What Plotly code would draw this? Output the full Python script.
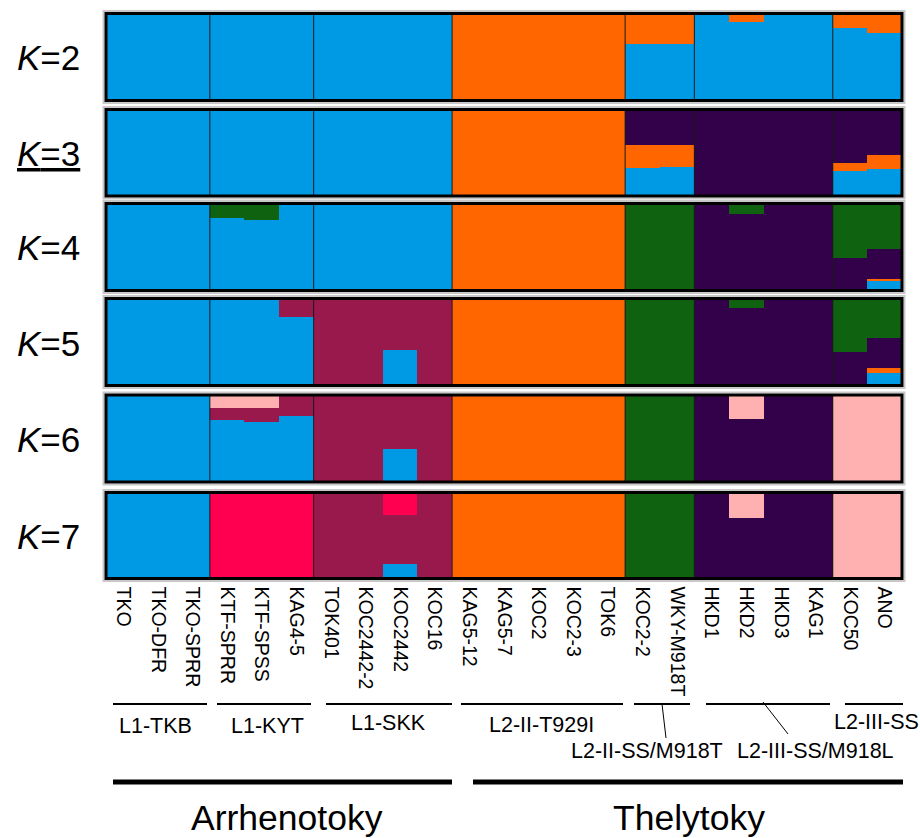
import plotly.graph_objects as go

W, H = 920, 838

# ---------------- data ----------------
populations = ["TKO", "TKO-DFR", "TKO-SPRR", "KTF-SPRR", "KTF-SPSS", "KAG4-5",
               "TOK401", "KOC2442-2", "KOC2442", "KOC16",
               "KAG5-12", "KAG5-7", "KOC2", "KOC2-3", "TOK6",
               "KOC2-2", "WKY-M918T",
               "HKD1", "HKD2", "HKD3", "KAG1",
               "KOC50", "ANO"]

group_names = ["L1-TKB", "L1-KYT", "L1-SKK", "L2-II-T929I", "L2-II-SS/M918T",
               "L2-III-SS/M918L", "L2-III-SS"]
group_sizes = [3, 3, 4, 5, 2, 4, 2]
mode_names = ["Arrhenotoky", "Thelytoky"]

k_labels = ["<i>K</i>=2", "<u><i>K</i>=3</u>", "<i>K</i>=4", "<i>K</i>=5", "<i>K</i>=6", "<i>K</i>=7"]

# K = 2
K2_blue   = [1, 1, 1, 1, 1, 1, 1, 1, 1, 1, 0, 0, 0, 0, 0, 0.655, 0.66, 1, 0.91, 1, 1, 0.84, 0.785]
K2_orange = [0, 0, 0, 0, 0, 0, 0, 0, 0, 0, 1, 1, 1, 1, 1, 0.345, 0.34, 0, 0.09, 0, 0, 0.16, 0.215]

# K = 3
K3_blue   = [1, 1, 1, 1, 1, 1, 1, 1, 1, 1, 0, 0, 0, 0, 0, 0.325, 0.337, 0, 0, 0, 0, 0.29, 0.32]
K3_orange = [0, 0, 0, 0, 0, 0, 0, 0, 0, 0, 1, 1, 1, 1, 1, 0.265, 0.253, 0, 0, 0, 0, 0.10, 0.16]
K3_purple = [0, 0, 0, 0, 0, 0, 0, 0, 0, 0, 0, 0, 0, 0, 0, 0.41, 0.41, 1, 1, 1, 1, 0.61, 0.52]

# K = 4
K4_blue   = [1, 1, 1, 0.836, 0.82, 1, 1, 1, 1, 1, 0, 0, 0, 0, 0, 0, 0, 0, 0, 0, 0, 0, 0.11]
K4_orange = [0, 0, 0, 0, 0, 0, 0, 0, 0, 0, 1, 1, 1, 1, 1, 0, 0, 0, 0, 0, 0, 0, 0.03]
K4_purple = [0, 0, 0, 0, 0, 0, 0, 0, 0, 0, 0, 0, 0, 0, 0, 0, 0, 1, 0.885, 1, 1, 0.38, 0.34]
K4_green  = [0, 0, 0, 0.164, 0.18, 0, 0, 0, 0, 0, 0, 0, 0, 0, 0, 1, 1, 0, 0.115, 0, 0, 0.62, 0.52]

# K = 5
K5_blue   = [1, 1, 1, 1, 1, 0.79, 0, 0, 0.41, 0, 0, 0, 0, 0, 0, 0, 0, 0, 0, 0, 0, 0, 0.155]
K5_orange = [0, 0, 0, 0, 0, 0, 0, 0, 0, 0, 1, 1, 1, 1, 1, 0, 0, 0, 0, 0, 0, 0, 0.055]
K5_purple = [0, 0, 0, 0, 0, 0, 0, 0, 0, 0, 0, 0, 0, 0, 0, 0, 0, 1, 0.90, 1, 1, 0.39, 0.34]
K5_green  = [0, 0, 0, 0, 0, 0, 0, 0, 0, 0, 0, 0, 0, 0, 0, 1, 1, 0, 0.10, 0, 0, 0.61, 0.45]
K5_maroon = [0, 0, 0, 0, 0, 0.21, 1, 1, 0.59, 1, 0, 0, 0, 0, 0, 0, 0, 0, 0, 0, 0, 0, 0]

# K = 6
K6_blue   = [1, 1, 1, 0.71, 0.695, 0.755, 0, 0, 0.38, 0, 0, 0, 0, 0, 0, 0, 0, 0, 0, 0, 0, 0, 0]
K6_orange = [0, 0, 0, 0, 0, 0, 0, 0, 0, 0, 1, 1, 1, 1, 1, 0, 0, 0, 0, 0, 0, 0, 0]
K6_purple = [0, 0, 0, 0, 0, 0, 0, 0, 0, 0, 0, 0, 0, 0, 0, 0, 0, 1, 0.72, 1, 1, 0, 0]
K6_green  = [0, 0, 0, 0, 0, 0, 0, 0, 0, 0, 0, 0, 0, 0, 0, 1, 1, 0, 0, 0, 0, 0, 0]
K6_maroon = [0, 0, 0, 0.135, 0.15, 0.245, 1, 1, 0.62, 1, 0, 0, 0, 0, 0, 0, 0, 0, 0, 0, 0, 0, 0]
K6_pink   = [0, 0, 0, 0.155, 0.155, 0, 0, 0, 0, 0, 0, 0, 0, 0, 0, 0, 0, 0, 0.28, 0, 0, 1, 1]

# K = 7
K7_blue   = [1, 1, 1, 0, 0, 0, 0, 0, 0.175, 0, 0, 0, 0, 0, 0, 0, 0, 0, 0, 0, 0, 0, 0]
K7_orange = [0, 0, 0, 0, 0, 0, 0, 0, 0, 0, 1, 1, 1, 1, 1, 0, 0, 0, 0, 0, 0, 0, 0]
K7_purple = [0, 0, 0, 0, 0, 0, 0, 0, 0, 0, 0, 0, 0, 0, 0, 0, 0, 1, 0.71, 1, 1, 0, 0]
K7_green  = [0, 0, 0, 0, 0, 0, 0, 0, 0, 0, 0, 0, 0, 0, 0, 1, 1, 0, 0, 0, 0, 0, 0]
K7_maroon = [0, 0, 0, 0, 0, 0, 1, 1, 0.57, 1, 0, 0, 0, 0, 0, 0, 0, 0, 0, 0, 0, 0, 0]
K7_pink   = [0, 0, 0, 0, 0, 0, 0, 0, 0, 0, 0, 0, 0, 0, 0, 0, 0, 0, 0.29, 0, 0, 1, 1]
K7_red    = [0, 0, 0, 1, 1, 1, 0, 0, 0.255, 0, 0, 0, 0, 0, 0, 0, 0, 0, 0, 0, 0, 0, 0]

panels = [
    [("blue", K2_blue), ("orange", K2_orange)],
    [("blue", K3_blue), ("orange", K3_orange), ("purple", K3_purple)],
    [("blue", K4_blue), ("orange", K4_orange), ("purple", K4_purple), ("green", K4_green)],
    [("blue", K5_blue), ("orange", K5_orange), ("purple", K5_purple), ("green", K5_green),
     ("maroon", K5_maroon)],
    [("blue", K6_blue), ("orange", K6_orange), ("purple", K6_purple), ("green", K6_green),
     ("maroon", K6_maroon), ("pink", K6_pink)],
    [("blue", K7_blue), ("orange", K7_orange), ("purple", K7_purple), ("green", K7_green),
     ("maroon", K7_maroon), ("pink", K7_pink), ("red", K7_red)],
]

# ---------------- style ----------------
COLORS = {
    "blue": "#0099E3", "orange": "#FF6600", "purple": "#33004A", "green": "#0E6210",
    "maroon": "#99194C", "pink": "#FFB0B0", "red": "#FF0050",
}
FONT = "Liberation Sans, Arial, sans-serif"

# panel vertical extents in window pixels (top, bottom)
panel_px = [(13.5, 100.5), (109.5, 196), (203.5, 290.5), (298.5, 385.5), (395, 482), (492.5, 578.5)]
X_LEFT, X_RIGHT = 106, 902


def px_x(p):
    return p / W


def px_y(p):
    return 1 - p / H


fig = go.Figure()
idx = list(range(len(populations)))
layout = {}
shapes = []
annotations = []

# boundaries between groups (in data units)
bounds = []
acc = 0
for s in group_sizes[:-1]:
    acc += s
    bounds.append(acc - 0.5)

for i, comps in enumerate(panels):
    n = i + 1
    xname = "x" if n == 1 else f"x{n}"
    yname = "y" if n == 1 else f"y{n}"
    for cname, vals in comps:
        fig.add_trace(go.Bar(
            x=idx, y=vals, width=1, marker=dict(color=COLORS[cname], line=dict(width=0)),
            xaxis=xname, yaxis=yname, hoverinfo="skip", showlegend=False,
        ))
    top, bot = panel_px[i]
    xkey = "xaxis" if n == 1 else f"xaxis{n}"
    ykey = "yaxis" if n == 1 else f"yaxis{n}"
    layout[xkey] = dict(
        domain=[px_x(X_LEFT), px_x(X_RIGHT)], range=[-0.5, len(populations) - 0.5],
        anchor=yname, showgrid=False, zeroline=False, showline=False, fixedrange=True,
        showticklabels=(n == len(panels)),
        tickmode="array", tickvals=idx, ticktext=populations, tickangle=90,
        ticks="", ticklabelstandoff=7,
        tickfont=dict(family=FONT, size=19.5, color="black"),
    )
    layout[ykey] = dict(
        domain=[px_y(bot), px_y(top)], range=[0, 1], anchor=xname,
        showgrid=False, zeroline=False, showticklabels=False, showline=False, fixedrange=True,
    )
    # group separators
    for b in bounds:
        shapes.append(dict(type="line", xref=xname, yref=f"{yname} domain",
                           x0=b, x1=b, y0=0, y1=1, line=dict(color="#1a1a1a", width=1)))
    # panel frame (gray halo + black border)
    shapes.append(dict(type="rect", xref="paper", yref="paper",
                       x0=px_x(X_LEFT - 2.5), x1=px_x(X_RIGHT + 2.5),
                       y0=px_y(bot + 2.5), y1=px_y(top - 2.5),
                       line=dict(color="#c8c8c8", width=2)))
    shapes.append(dict(type="rect", xref="paper", yref="paper",
                       x0=px_x(X_LEFT), x1=px_x(X_RIGHT), y0=px_y(bot), y1=px_y(top),
                       line=dict(color="black", width=3)))
    # K label
    annotations.append(dict(text=k_labels[i], xref="paper", yref="paper",
                            x=px_x(48), y=px_y((top + bot) / 2 + 1),
                            xanchor="center", yanchor="middle", showarrow=False,
                            font=dict(family=FONT, size=35, color="black")))

# group brackets and labels (pixel placement)
bracket_px = [(113, 207), (217, 311), (326, 452), (461, 623), (634, 690), (706, 830), (845, 903)]
group_label_px = [(155, 726), (267, 726), (388, 723), (541, 725), (647, 751), (815, 751), (876, 722)]
for (x0, x1), (lx, ly), name in zip(bracket_px, group_label_px, group_names):
    shapes.append(dict(type="line", xref="paper", yref="paper",
                       x0=px_x(x0), x1=px_x(x1), y0=px_y(704), y1=px_y(704),
                       line=dict(color="black", width=2)))
    annotations.append(dict(text=name, xref="paper", yref="paper", x=px_x(lx), y=px_y(ly),
                            xanchor="center", yanchor="middle", showarrow=False,
                            font=dict(family=FONT, size=21.5, color="black")))

# connector lines
for (ax, ay, bx, by) in [(662, 704, 666, 738), (763, 702, 788, 734)]:
    shapes.append(dict(type="line", xref="paper", yref="paper",
                       x0=px_x(ax), y0=px_y(ay), x1=px_x(bx), y1=px_y(by),
                       line=dict(color="black", width=1)))

# reproduction mode lines and labels
mode_px = [(113, 452, 287), (473, 903, 689)]
for (x0, x1, cx), name in zip(mode_px, mode_names):
    shapes.append(dict(type="line", xref="paper", yref="paper",
                       x0=px_x(x0), x1=px_x(x1), y0=px_y(782), y1=px_y(782),
                       line=dict(color="black", width=5)))
    annotations.append(dict(text=name, xref="paper", yref="paper", x=px_x(cx), y=px_y(818),
                            xanchor="center", yanchor="middle", showarrow=False,
                            font=dict(family=FONT, size=35.5, color="black")))

fig.update_layout(
    width=W, height=H, margin=dict(l=0, r=0, t=0, b=0),
    paper_bgcolor="white", plot_bgcolor="white",
    barmode="stack", bargap=0, showlegend=False,
    shapes=shapes, annotations=annotations,
    **layout,
)

# remove the default 8px page margin so the figure fills the window exactly
fig.write_html("out.html", config={"displayModeBar": False},
               post_script="document.body.style.margin='0';")
